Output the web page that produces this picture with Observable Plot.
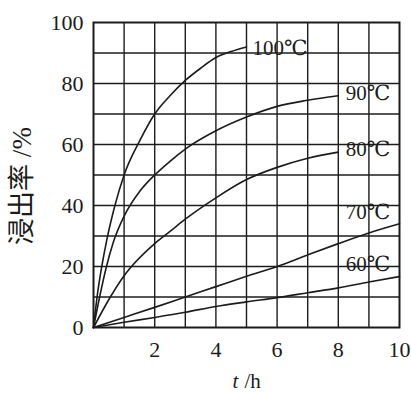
<!DOCTYPE html>
<html>
<head>
<meta charset="utf-8">
<script src="https://cdn.jsdelivr.net/npm/d3@7"></script>
<script src="https://cdn.jsdelivr.net/npm/@observablehq/plot@0.6"></script>
<style>
  html, body { margin: 0; padding: 0; background: #fff; }
</style>
</head>
<body>
<div id="chart"></div>
<script>
// ---- data ----
const xTicks = [2, 4, 6, 8, 10];
const yTicks = [0, 20, 40, 60, 80, 100];
const xGrid = [1, 2, 3, 4, 5, 6, 7, 8, 9];
const yGrid = [10, 20, 30, 40, 50, 60, 70, 80, 90];

const t100 = [0, 0.13, 0.27, 0.44, 0.7, 1, 1.5, 2, 2.5, 3, 3.5, 4, 4.5, 5];
const r100 = [0, 11, 20, 29, 40, 50, 61, 70, 76, 81, 85, 88.5, 90.5, 92];
const t90 = [0, 0.2, 0.4, 0.65, 1, 1.5, 2, 2.5, 3, 4, 5, 6, 7, 8];
const r90 = [0, 10, 19, 28, 36.5, 44.5, 50, 54.5, 58.5, 64.5, 69, 72.5, 74.5, 76];
const t80 = [0, 0.55, 1, 1.2, 2, 2.5, 3, 4, 5, 6, 7, 8];
const r80 = [0, 10, 17, 19.5, 27.5, 31.5, 35.5, 42.5, 48.5, 52.5, 55.5, 57.5];
const t70 = [0, 1, 2, 3, 4, 5, 6, 7, 8, 9, 10];
const r70 = [0, 3.3, 6.6, 10, 13.4, 16.8, 20, 23.8, 27.5, 31, 34];
const t60 = [0, 1, 2, 3, 4, 5, 6, 7, 8, 9, 10];
const r60 = [0, 1.7, 3.3, 5, 6.9, 8.4, 9.8, 11.4, 13, 14.9, 16.7];

const seriesNames = ["100℃", "90℃", "80℃", "70℃", "60℃"];
const seriesT = [t100, t90, t80, t70, t60];
const seriesR = [r100, r90, r80, r70, r60];
// label anchor positions in data units
const labelT = [5.2, 8.24, 8.24, 8.24, 8.24];
const labelR = [91.5, 76.7, 58.4, 37.7, 20.7];

const xLabelItalic = "t";
const xLabelRest = "/h";
const yLabel = "浸出率 /%";

// ---- build tables ----
const lines = [];
seriesNames.forEach((name, k) => {
  seriesT[k].forEach((t, i) => lines.push({series: name, t, r: seriesR[k][i]}));
});
const labels = seriesNames.map((name, k) => ({name, t: labelT[k], r: labelR[k]}));

const ink = "#1c1c1c";
const serif = "Liberation Serif, DejaVu Serif, Noto Sans CJK SC, serif";

const chart = Plot.plot({
  width: 411,
  height: 393,
  marginLeft: 93,
  marginRight: 12,
  marginTop: 22,
  marginBottom: 66,
  style: {background: "#fff", color: ink},
  x: {domain: [0, 10], axis: null},
  y: {domain: [0, 100], axis: null},
  marks: [
    Plot.ruleX(xGrid, {stroke: ink, strokeWidth: 1.4}),
    Plot.ruleY(yGrid, {stroke: ink, strokeWidth: 1.4}),
    Plot.frame({stroke: ink, strokeWidth: 2}),
    Plot.line(lines, {x: "t", y: "r", z: "series", stroke: ink, strokeWidth: 1.6, curve: "monotone-x"}),
    // tick labels (placed through the scales)
    Plot.text(xTicks, {x: d => d, y: 0, text: d => String(d), dy: 22, lineAnchor: "middle",
      fontSize: 22, fontFamily: serif, fill: ink}),
    Plot.text(yTicks, {x: 0, y: d => d, text: d => String(d), dx: -10, textAnchor: "end",
      lineAnchor: "middle", fontSize: 22, fontFamily: serif, fill: ink}),
    Plot.text(labels, {x: "t", y: "r", text: "name", textAnchor: "start", fill: ink,
      fontSize: 21, fontFamily: serif}),
    Plot.text([xLabelItalic], {frameAnchor: "bottom", text: d => d, dx: -11, dy: 54,
      textAnchor: "middle", lineAnchor: "middle", fontStyle: "italic", fontSize: 21, fontFamily: serif, fill: ink}),
    Plot.text([xLabelRest], {frameAnchor: "bottom", text: d => d, dx: -2, dy: 54,
      textAnchor: "start", lineAnchor: "middle", fontSize: 21, fontFamily: serif, fill: ink}),
    Plot.text([yLabel], {frameAnchor: "left", text: d => d, dx: -71, dy: 11, rotate: -90,
      textAnchor: "middle", lineAnchor: "middle", fontSize: 27, fontFamily: serif, fill: ink})
  ]
});
document.getElementById("chart").appendChild(chart);
</script>
</body>
</html>
